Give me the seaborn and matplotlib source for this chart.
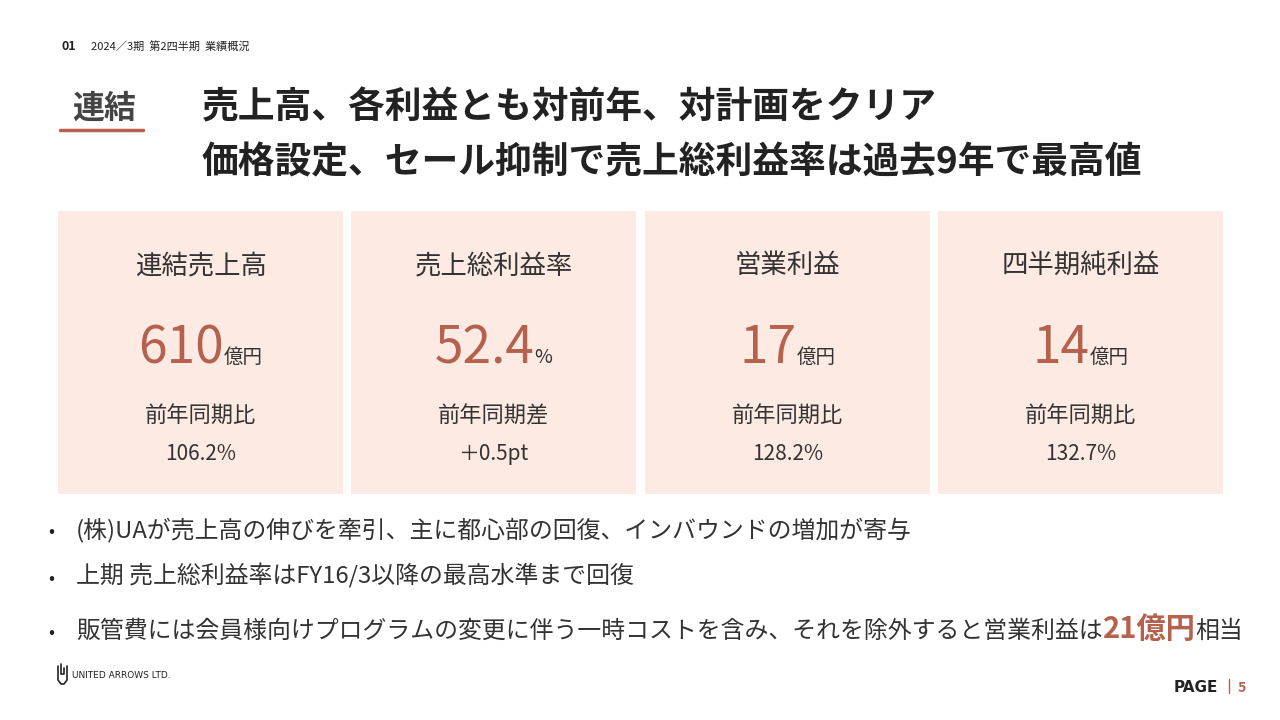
import matplotlib.pyplot as plt
import seaborn as sns
from matplotlib.patches import Rectangle

sns.set_theme(style="white", font="Noto Sans CJK JP")

# --- data ---
card_titles = ["連結売上高", "売上総利益率", "営業利益", "四半期純利益"]
card_values = ["610", "52.4", "17", "14"]
card_units = ["億円", "%", "億円", "億円"]
card_sub = ["前年同期比", "前年同期差", "前年同期比", "前年同期比"]
card_ratio = ["106.2%", "＋0.5pt", "128.2%", "132.7%"]
bullets = ["(株)UAが売上高の伸びを牽引、主に都心部の回復、インバウンドの増加が寄与",
           "上期 売上総利益率はFY16/3以降の最高水準まで回復",
           "販管費には会員様向けプログラムの変更に伴う一時コストを含み、それを除外すると営業利益は"]
accent_val = "21億円"
accent_tail = "相当"

RED = "#B5614E"
CARD = "#FCEAE3"
DARK = "#222222"

fig = plt.figure(figsize=(12.8, 7.2), dpi=100)
ax = fig.add_axes([0, 0, 1, 1])
ax.set_xlim(0, 1280)
ax.set_ylim(720, 0)
ax.axis("off")
fig.canvas.draw()
rend = fig.canvas.get_renderer()

def chain(x, y, parts):
    # draw text parts one after another on a baseline
    for s, size, color, weight in parts:
        t = ax.text(x, y, s, fontsize=size, color=color, weight=weight, va="baseline", ha="left")
        bb = t.get_window_extent(rend)
        x += bb.width
    return x

ax.text(62, 50, "01", fontsize=9, weight="bold", color=DARK, va="baseline")
ax.text(91, 50, "2024／3期  第2四半期  業績概況", fontsize=8, color=DARK, va="baseline")

ax.text(104, 118, "連結", fontsize=23, weight="bold", color="#444444", ha="center", va="baseline")
ax.plot([60, 143], [130, 130], color=RED, lw=2.5)
ax.text(202, 118, "売上高、各利益とも対前年、対計画をクリア", fontsize=26.5, weight="bold", color=DARK, va="baseline")
ax.text(202, 173, "価格設定、セール抑制で売上総利益率は過去9年で最高値", fontsize=26.5, weight="bold", color=DARK, va="baseline")

lefts = [58, 351, 645, 938]
for i, x0 in enumerate(lefts):
    w = 285
    ax.add_patch(Rectangle((x0, 211), w, 283, color=CARD, lw=0))
    cx = x0 + w / 2
    ax.text(cx, 273, card_titles[i], fontsize=19, color="#333333", ha="center", va="baseline")
    tn = ax.text(0, 0, card_values[i], fontsize=37, color=RED)
    tu = ax.text(0, 0, card_units[i], fontsize=14, color="#333333")
    wn = tn.get_window_extent(rend).width
    wu = tu.get_window_extent(rend).width
    tn.remove(); tu.remove()
    xs = cx - (wn + wu) / 2
    chain(xs, 363, [(card_values[i], 37, RED, "normal"), (card_units[i], 14, "#333333", "normal")])
    ax.text(cx, 422, card_sub[i], fontsize=16, color="#333333", ha="center", va="baseline")
    ax.text(cx, 460, card_ratio[i], fontsize=15, color="#333333", ha="center", va="baseline")

ys = [537, 584, 638]
for i, b in enumerate(bullets):
    ax.text(48, ys[i], "•", fontsize=13, color=DARK, va="baseline")
    if i < 2:
        ax.text(76, ys[i], b, fontsize=17.2, color="#333333", va="baseline")
    else:
        chain(76, ys[i], [(b, 17.2, "#333333", "normal"), (accent_val, 21, RED, "bold"),
                          (accent_tail, 17.2, "#333333", "normal")])

# logo mark
ax.plot([58, 58, 61, 64, 67, 67], [666, 680, 684, 684, 680, 666], color=DARK, lw=1.2)
ax.plot([61, 61, 64, 64], [664, 674, 674, 668], color=DARK, lw=1.2)
ax.text(72, 678, "UNITED ARROWS LTD.", fontsize=6.5, color=DARK, va="baseline",
        family="DejaVu Sans")
ax.text(1218, 692, "PAGE", fontsize=11, weight="bold", color=DARK, ha="right", va="baseline",
        family="DejaVu Sans")
ax.plot([1229, 1229], [679, 693], color=RED, lw=1)
ax.text(1238, 692, "5", fontsize=10, weight="bold", color=RED, va="baseline")

fig.savefig("out.png", dpi=100)
